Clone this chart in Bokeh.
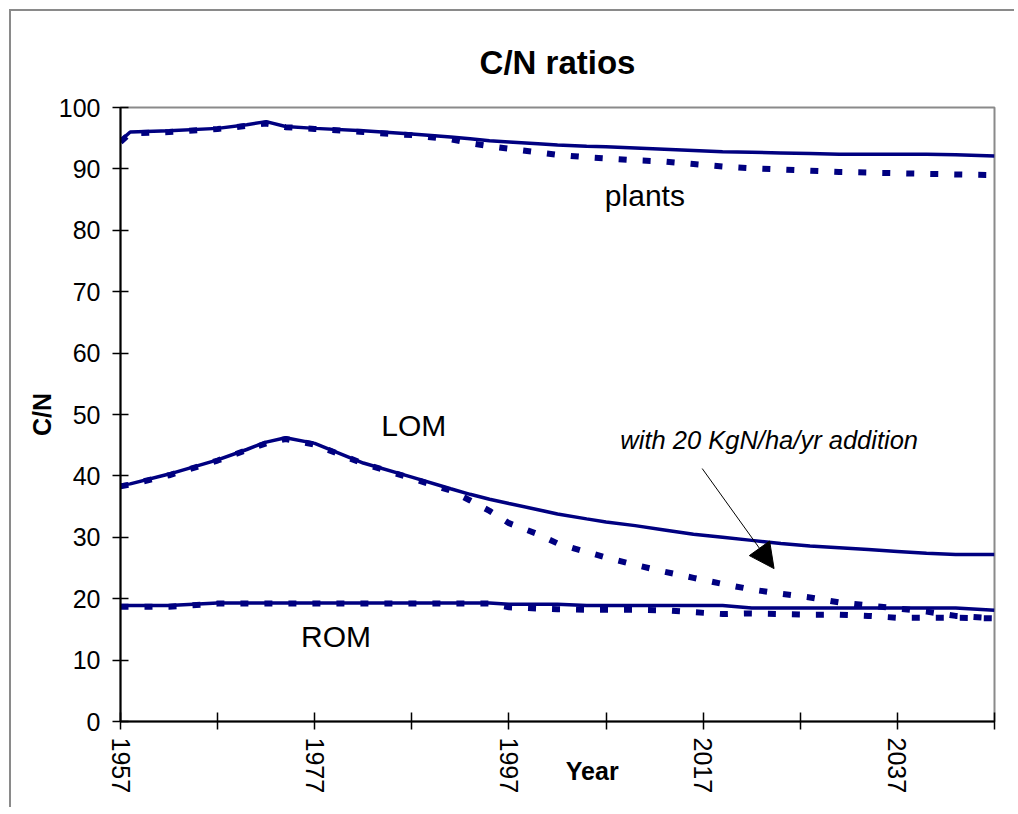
from bokeh.plotting import figure
from bokeh.models import Range1d, FixedTicker, Label, Arrow, NormalHead
from bokeh.embed import file_html
from bokeh.resources import INLINE

years = [1957, 1958, 1962, 1967, 1970, 1972, 1974, 1977, 1982, 1987, 1991, 1993, 1995,
         1997, 2000, 2002, 2005, 2007, 2010, 2013, 2016, 2019, 2022, 2025, 2028, 2031,
         2034, 2037, 2040, 2043, 2047]

plants_base = [94.6, 96.0, 96.2, 96.6, 97.2, 97.7, 96.9, 96.6, 96.2, 95.7, 95.2, 94.9, 94.6,
               94.4, 94.1, 93.9, 93.7, 93.6, 93.4, 93.2, 93.0, 92.8, 92.7, 92.6, 92.5, 92.4,
               92.4, 92.4, 92.4, 92.3, 92.1]
plants_n20 = [94.4, 95.8, 96.0, 96.5, 97.0, 97.4, 96.8, 96.5, 96.0, 95.5, 94.8, 94.2, 93.7,
              93.3, 92.7, 92.3, 91.9, 91.7, 91.4, 91.2, 90.8, 90.4, 90.1, 89.9, 89.7, 89.5,
              89.4, 89.3, 89.2, 89.1, 89.0]
lom_base = [38.5, 38.7, 40.3, 42.6, 44.3, 45.5, 46.2, 45.3, 42.1, 39.8, 37.9, 37.0, 36.2,
            35.5, 34.5, 33.8, 33.0, 32.5, 31.9, 31.2, 30.5, 30.0, 29.5, 29.0, 28.6, 28.3,
            28.0, 27.7, 27.4, 27.2, 27.2]
lom_n20 = [38.3, 38.6, 40.1, 42.5, 44.2, 45.3, 46.0, 45.1, 42.0, 39.6, 37.6, 36.0, 34.3,
           32.3, 30.5, 29.0, 27.6, 26.7, 25.5, 24.4, 23.4, 22.4, 21.5, 20.8, 20.2, 19.4,
           18.9, 18.4, 17.9, 17.2, 16.8]
rom_base = [18.9, 18.9, 18.9, 19.3, 19.3, 19.3, 19.3, 19.3, 19.3, 19.3, 19.3, 19.3, 19.3,
            19.1, 19.1, 19.1, 18.9, 18.9, 18.9, 18.9, 18.9, 18.9, 18.5, 18.5, 18.5, 18.5,
            18.5, 18.5, 18.5, 18.5, 18.1]
rom_n20 = [18.7, 18.7, 18.7, 19.2, 19.2, 19.2, 19.2, 19.2, 19.2, 19.2, 19.2, 19.2, 19.2,
           18.6, 18.4, 18.3, 18.2, 18.2, 18.2, 18.1, 17.8, 17.5, 17.6, 17.5, 17.4, 17.4,
           17.2, 16.9, 16.9, 16.9, 16.8]

x_ticks = [1957, 1967, 1977, 1987, 1997, 2007, 2017, 2027, 2037, 2047]
x_labels = ["1957", "", "1977", "", "1997", "", "2017", "", "2037", ""]
y_ticks = [0, 10, 20, 30, 40, 50, 60, 70, 80, 90, 100]

FONT = "Liberation Sans"
NAVY = "#000080"

p = figure(width=1005, height=798, output_backend="svg", toolbar_location=None,
           x_range=Range1d(1957, 2047), y_range=Range1d(0, 100),
           min_border_left=109, min_border_right=22, min_border_top=96, min_border_bottom=88)
p.margin = (9, 0, 0, 9)
p.styles = {"border-left": "2px solid #8a8a8a", "border-top": "2px solid #8a8a8a"}
p.xgrid.visible = False
p.ygrid.visible = False
p.background_fill_color = "white"
p.border_fill_color = "white"
p.outline_line_color = "#8a8a8a"
p.outline_line_width = 2

# title
p.title.text = "C/N ratios"
p.title.align = "center"
p.title.text_font = FONT
p.title.text_font_size = "33px"
p.title.text_font_style = "bold"
p.title.text_color = "black"
p.title.standoff = 53

# series
p.line(years, plants_base, line_color=NAVY, line_width=3.5)
p.line(years, lom_base, line_color=NAVY, line_width=3.5)
p.line(years, rom_base, line_color=NAVY, line_width=3.5)
p.line(years, plants_n20, line_color=NAVY, line_width=6, line_dash="8 16")
p.line(years, lom_n20, line_color=NAVY, line_width=6, line_dash="8 16")
p.line(years, rom_n20, line_color=NAVY, line_width=6, line_dash="8 16")

# axes
xa = p.xaxis[0]
xa.ticker = FixedTicker(ticks=x_ticks)
xa.major_label_overrides = {t: l for t, l in zip(x_ticks, x_labels)}
xa.major_label_orientation = "vertical"
xa.minor_tick_line_color = None
xa.major_tick_in = 9
xa.major_tick_out = 8
xa.major_label_standoff = 8
xa.axis_line_color = "black"
xa.axis_line_width = 2
xa.major_tick_line_width = 1.5
xa.major_label_text_font = FONT
xa.major_label_text_font_size = "25px"
xa.major_label_text_color = "black"
xa.axis_label = "\u00a0" * 10 + "Year"
xa.axis_label_text_font = FONT
xa.axis_label_text_font_size = "25px"
xa.axis_label_text_font_style = "bold"
xa.axis_label_text_color = "black"
xa.axis_label_standoff = -39

ya = p.yaxis[0]
ya.ticker = FixedTicker(ticks=y_ticks)
ya.minor_tick_line_color = None
ya.major_tick_in = 8
ya.major_tick_out = 8
ya.major_label_standoff = 12
ya.axis_line_color = "black"
ya.axis_line_width = 2
ya.major_tick_line_width = 1.5
ya.major_label_text_font = FONT
ya.major_label_text_font_size = "25px"
ya.major_label_text_color = "black"
ya.axis_label = "C/N"
ya.axis_label_text_font = FONT
ya.axis_label_text_font_size = "25px"
ya.axis_label_text_font_style = "bold"
ya.axis_label_text_color = "black"
ya.axis_label_standoff = 0

# in-plot texts
p.add_layout(Label(x=2011.0, y=85.7, text="plants", text_font=FONT, text_font_size="30px",
                   text_color="black", text_align="center", text_baseline="middle"))
p.add_layout(Label(x=1987.2, y=48.2, text="LOM", text_font=FONT, text_font_size="30px",
                   text_color="black", text_align="center", text_baseline="middle"))
p.add_layout(Label(x=1979.2, y=13.8, text="ROM", text_font=FONT, text_font_size="30px",
                   text_color="black", text_align="center", text_baseline="middle"))
p.add_layout(Label(x=2023.8, y=45.8, text="with 20 KgN/ha/yr addition", text_font=FONT,
                   text_font_size="25.5px", text_font_style="italic", text_color="black",
                   text_align="center", text_baseline="middle"))
p.add_layout(Arrow(x_start=2016.9, y_start=41.2, x_end=2024.3, y_end=24.9,
                   line_color="black", line_width=1,
                   end=NormalHead(size=25, fill_color="black", line_color="black")))

open("out.html", "w").write(file_html(p, INLINE))
